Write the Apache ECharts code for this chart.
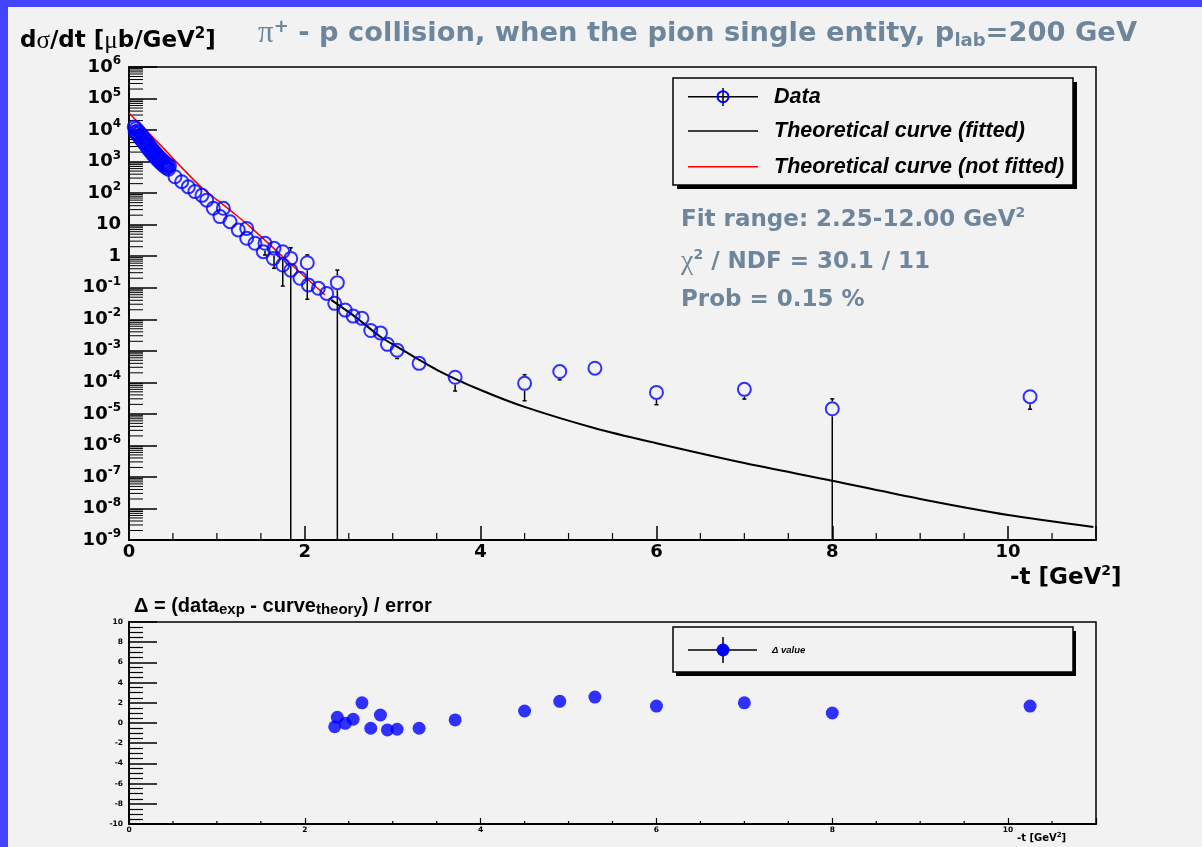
<!DOCTYPE html>
<html>
<head>
<meta charset="utf-8">
<script src="https://cdn.jsdelivr.net/npm/echarts@6/dist/echarts.min.js"></script>
<style>
html,body{margin:0;padding:0;background:#f2f2f2;}
#chart{width:1202px;height:847px;}
</style>
</head>
<body>
<div id="chart"></div>
<script>
// ---------------- data ----------------
// measured d(sigma)/dt points: -t [GeV^2] and value [mub/GeV^2]
const dataT = [0.06,0.08,0.10,0.12,0.14,0.16,0.18,0.20,0.22,0.24,0.26,0.28,0.30,0.32,0.34,0.36,0.38,0.40,0.42,0.44,0.46,
  0.07,0.09,0.11,0.13,0.15,0.17,0.19,0.21,0.23,0.25,0.27,0.29,0.31,0.33,0.35,0.37,0.39,0.41,0.43,0.45,
  0.523,0.60,0.675,0.75,0.83,0.884,0.959,1.035,1.073,1.149,1.243,1.339,1.339,1.433,1.528,1.547,1.642,1.65,1.749,1.749,1.84,1.84,1.945,2.028,2.04,2.154,2.249,
  2.34,2.37,2.46,2.55,2.65,2.75,2.86,2.94,3.05,3.30,3.71,4.5,4.9,5.3,6.0,7.0,8.0,10.25];
const dataV = [12600,11200,9600,8300,7100,6000,5100,4300,3600,3050,2600,2200,1900,1650,1430,1260,1110,990,890,800,730,
  8600,7500,6400,5400,4600,3900,3300,2750,2300,1970,1680,1450,1260,1100,970,860,770,690,630,575,
  331,230,158,112,85,60,33,18,33,12.4,6.8,7.6,3.7,2.57,1.39,2.57,0.85,1.78,1.39,0.525,0.85,0.36,0.2,0.62,0.123,0.096,0.066,
  0.032,0.145,0.0195,0.0126,0.0107,4.4e-3,3.7e-3,1.6e-3,1.05e-3,4.0e-4,1.45e-4,9.3e-5,2.2e-4,2.8e-4,4.8e-5,6.0e-5,1.45e-5,3.5e-5];
// visible error bars (upper / lower bound; 0 = reaches below the axis)
const errT  = [1.547,1.65,1.749,1.84,2.028,2.37,3.05,3.71,4.5,4.9,5.3,6.0,7.0,8.0,10.25];
const errV  = [2.57,1.78,1.39,0.85,0.62,0.145,1.05e-3,1.45e-4,9.3e-5,2.2e-4,2.8e-4,4.8e-5,6.0e-5,1.45e-5,3.5e-5];
const errHi = [3.3,2.88,2.38,1.86,1.1,0.363,1.5e-3,2.15e-4,1.75e-4,3.6e-4,4.5e-4,7.8e-5,9.8e-5,3.0e-5,5.3e-5];
const errLo = [1.09,0.413,0.113,0,0.043,0,5.7e-4,5.3e-5,2.6e-5,1.2e-4,1.7e-4,1.95e-5,2.95e-5,0,1.4e-5];
// theoretical curve (fitted), black
const fitT = [2.30,2.60,2.86,3.08,3.54,4.0,4.5,5.3,6.0,7.0,8.0,9.0,10.0,10.97];
const fitV = [0.041,0.0105,2.8e-3,1.2e-3,2.2e-4,5.7e-5,1.66e-5,3.5e-6,1.17e-6,2.75e-7,7.6e-8,2.0e-8,6.2e-9,2.6e-9];
// theoretical curve (not fitted), red
const nfT = [0,0.33,0.80,1.17,1.38,1.83,2.23];
const nfV = [35000,4000,178,26,8.5,0.6,0.059];
// residuals Delta = (data - theory)/error
const resT = [2.34,2.37,2.46,2.55,2.65,2.75,2.86,2.94,3.05,3.30,3.71,4.5,4.9,5.3,6.0,7.0,8.0,10.25];
const resV = [-0.37,0.56,-0.03,0.37,2.0,-0.52,0.79,-0.69,-0.62,-0.52,0.30,1.19,2.15,2.57,1.68,2.0,0.99,1.68];
// axis ticks
const logDecades = [-9,-8,-7,-6,-5,-4,-3,-2,-1,0,1,2,3,4,5];
const logMinorMult = [2,3,4,5,6,7,8,9];
const xMinorTicks = [0.5,1,1.5,2.5,3,3.5,4.5,5,5.5,6.5,7,7.5,8.5,9,9.5,10.5];

// ---------------- styling ----------------
const YMIN = 1e-9, YMAX = 1e6;
const DJ = 'DejaVu Sans';
const LS = 'Liberation Sans';
const GR = 'Liberation Serif';
const STATC = '#6d869c';
const BLUE = '#0000ff';

const chart = echarts.init(document.getElementById('chart'), null, {renderer: 'canvas', width: 1202, height: 847});

// label of the decade axis (value = exponent of ten)
function decadeLabel(e) {
  e = Math.round(e);
  if (e === 0) return '{b|1}';
  if (e === 1) return '{b|10}';
  return '{b|10}{s|' + e + '}';
}

function renderErr(params, api) {
  const t = api.value(0), v = api.value(1), hi = api.value(2), lo = api.value(3);
  const c = api.coord([t, v]);
  const ph = api.coord([t, hi]);
  const pl = api.coord([t, lo > YMIN ? lo : YMIN]);
  const r = 7.5, cap = 2;
  const st = {stroke: '#000', lineWidth: 1.5};
  const ch = [];
  if (ph[1] < c[1] - r) {
    ch.push({type: 'line', shape: {x1: c[0], y1: ph[1], x2: c[0], y2: c[1] - r}, style: st});
    ch.push({type: 'line', shape: {x1: c[0] - cap, y1: ph[1], x2: c[0] + cap, y2: ph[1]}, style: st});
  }
  if (pl[1] > c[1] + r) {
    ch.push({type: 'line', shape: {x1: c[0], y1: c[1] + r, x2: c[0], y2: pl[1]}, style: st});
    if (lo > YMIN) ch.push({type: 'line', shape: {x1: c[0] - cap, y1: pl[1], x2: c[0] + cap, y2: pl[1]}, style: st});
  }
  return {type: 'group', children: ch};
}

const yMinor = [];
logDecades.forEach(d => logMinorMult.forEach(m => yMinor.push([0, m * Math.pow(10, d)])));

const option = {
  animation: false,
  backgroundColor: '#f2f2f2',
  grid: [
    {left: 129, top: 67, width: 967, height: 473, show: true, borderColor: '#000', borderWidth: 1.5, backgroundColor: 'transparent', containLabel: false, outerBoundsMode: 'none'},
    {left: 129, top: 622, width: 967, height: 202, show: true, borderColor: '#000', borderWidth: 1.5, backgroundColor: 'transparent', containLabel: false, outerBoundsMode: 'none'}
  ],
  xAxis: [
    {gridIndex: 0, type: 'value', min: 0, max: 11, interval: 2,
     axisLine: {show: true, onZero: false, lineStyle: {color: '#000', width: 2}},
     axisTick: {show: true, inside: true, length: 14, lineStyle: {color: '#000', width: 1.5}},
     minorTick: {show: false}, splitLine: {show: false},
     axisLabel: {show: true, margin: 3, color: '#000', fontFamily: DJ, fontWeight: 'bold', fontSize: 18,
                 formatter: v => (v > 10.5 ? '' : String(v))}},
    {gridIndex: 1, type: 'value', min: 0, max: 11, interval: 2,
     axisLine: {show: true, onZero: false, lineStyle: {color: '#000', width: 2}},
     axisTick: {show: true, inside: true, length: 6, lineStyle: {color: '#000', width: 1.2}},
     minorTick: {show: false}, splitLine: {show: false},
     axisLabel: {show: true, margin: 2, color: '#000', fontFamily: DJ, fontWeight: 'bold', fontSize: 7.5,
                 formatter: v => (v > 10.5 ? '' : String(v))}}
  ],
  yAxis: [
    // log axis carrying the data
    {gridIndex: 0, type: 'log', logBase: 10, min: YMIN, max: YMAX,
     axisLine: {show: true, onZero: false, lineStyle: {color: '#000', width: 2}},
     axisTick: {show: false}, minorTick: {show: false}, splitLine: {show: false},
     axisLabel: {show: false}},
    // residual axis
    {gridIndex: 1, type: 'value', min: -10, max: 10, interval: 2,
     axisLine: {show: true, onZero: false, lineStyle: {color: '#000', width: 2}},
     axisTick: {show: true, inside: true, length: 28, lineStyle: {color: '#000', width: 1.5}},
     minorTick: {show: true, splitNumber: 4, length: 14, lineStyle: {color: '#000', width: 1.2}},
     splitLine: {show: false},
     axisLabel: {show: true, margin: 6, color: '#000', fontFamily: DJ, fontWeight: 'bold', fontSize: 7.5}},
    // decade axis (exponent of ten) for major ticks and labels of the log scale
    {gridIndex: 0, type: 'value', min: -9, max: 6, interval: 1, position: 'left',
     axisLine: {show: false},
     axisTick: {show: true, inside: true, length: 28, lineStyle: {color: '#000', width: 1.5}},
     minorTick: {show: false}, splitLine: {show: false},
     axisLabel: {show: true, margin: 8, formatter: decadeLabel,
       rich: {b: {fontSize: 18, fontFamily: DJ, fontWeight: 'bold', color: '#000', lineHeight: 24, verticalAlign: 'middle'},
              s: {fontSize: 12, fontFamily: DJ, fontWeight: 'bold', color: '#000', lineHeight: 12, verticalAlign: 'top'}}}}
  ],
  series: [
    {type: 'custom', name: 'yMinorTicks', xAxisIndex: 0, yAxisIndex: 0, silent: true, z: 3,
     data: yMinor,
     renderItem: (p, api) => { const c = api.coord([api.value(0), api.value(1)]);
       return {type: 'line', shape: {x1: c[0], y1: c[1], x2: c[0] + 14, y2: c[1]}, style: {stroke: '#000', lineWidth: 1}}; }},
    {type: 'custom', name: 'xMinorTicks', xAxisIndex: 0, yAxisIndex: 0, silent: true, z: 3,
     data: xMinorTicks.map(t => [t, YMIN]),
     renderItem: (p, api) => { const c = api.coord([api.value(0), api.value(1)]);
       return {type: 'line', shape: {x1: c[0], y1: c[1], x2: c[0], y2: c[1] - 7}, style: {stroke: '#000', lineWidth: 1.2}}; }},
    {type: 'custom', name: 'xMinorTicksRes', xAxisIndex: 1, yAxisIndex: 1, silent: true, z: 3,
     data: xMinorTicks.map(t => [t, -10]),
     renderItem: (p, api) => { const c = api.coord([api.value(0), api.value(1)]);
       return {type: 'line', shape: {x1: c[0], y1: c[1], x2: c[0], y2: c[1] - 3}, style: {stroke: '#000', lineWidth: 1.2}}; }},
    {type: 'line', name: 'Theoretical curve (fitted)', xAxisIndex: 0, yAxisIndex: 0, silent: true, z: 4,
     data: fitT.map((t, i) => [t, fitV[i]]), smooth: 0.3, showSymbol: false, symbol: 'none',
     lineStyle: {color: '#000', width: 2}},
    {type: 'line', name: 'Theoretical curve (not fitted)', xAxisIndex: 0, yAxisIndex: 0, silent: true, z: 4,
     data: nfT.map((t, i) => [t, nfV[i]]), smooth: 0.3, showSymbol: false, symbol: 'none',
     lineStyle: {color: '#ff0000', width: 1.5}},
    {type: 'custom', name: 'errors', xAxisIndex: 0, yAxisIndex: 0, silent: true, z: 5,
     encode: {x: 0, y: 1},
     data: errT.map((t, i) => [t, errV[i], errHi[i], errLo[i]]),
     renderItem: renderErr},
    {type: 'scatter', name: 'Data', xAxisIndex: 0, yAxisIndex: 0, silent: true, z: 6,
     data: dataT.map((t, i) => [t, dataV[i]]), symbol: 'circle', symbolSize: 13,
     itemStyle: {color: 'rgba(0,0,0,0)', borderColor: BLUE, borderWidth: 2}},
    {type: 'scatter', name: 'Δ value', xAxisIndex: 1, yAxisIndex: 1, silent: true, z: 6,
     data: resT.map((t, i) => [t, resV[i]]), symbol: 'circle', symbolSize: 13,
     itemStyle: {color: BLUE, borderWidth: 0}}
  ],
  graphic: [
    // blue outer frame
    {type: 'rect', shape: {x: 0, y: 0, width: 1202, height: 7}, style: {fill: '#4444ff'}, z: 200},
    {type: 'rect', shape: {x: 0, y: 0, width: 8, height: 847}, style: {fill: '#4444ff'}, z: 200},
    // title
    {type: 'text', x: 258, y: 34, z: 100, style: {
      text: '{g|π}{sp|+}{m| - p collision, when the pion single entity, p}{sb|lab}{m|=200 GeV}',
      fill: STATC, verticalAlign: 'middle', textVerticalAlign: 'middle',
      rich: {g: {fontSize: 31, fontFamily: GR, fill: STATC, lineHeight: 32, verticalAlign: 'middle'},
             sp: {fontSize: 18, fontFamily: DJ, fontWeight: 'bold', fill: STATC, lineHeight: 18, verticalAlign: 'top'},
             m: {fontSize: 27.3, fontFamily: DJ, fontWeight: 'bold', fill: STATC, lineHeight: 32, verticalAlign: 'middle'},
             sb: {fontSize: 18, fontFamily: DJ, fontWeight: 'bold', fill: STATC, lineHeight: 10, verticalAlign: 'bottom'}}}},
    // y axis title
    {type: 'text', x: 20, y: 41, z: 100, style: {
      text: '{m|d}{g|σ}{m|/dt [}{g|μ}{m|b/GeV}{sp|2}{m|]}',
      fill: '#000', verticalAlign: 'middle', textVerticalAlign: 'middle',
      rich: {m: {fontSize: 23, fontFamily: DJ, fontWeight: 'bold', fill: '#000', lineHeight: 28, verticalAlign: 'middle'},
             g: {fontSize: 25, fontFamily: GR, fill: '#000', lineHeight: 28, verticalAlign: 'middle'},
             sp: {fontSize: 15, fontFamily: DJ, fontWeight: 'bold', fill: '#000', lineHeight: 14, verticalAlign: 'top'}}}},
    // x axis title (main)
    {type: 'text', x: 1010, y: 578, z: 100, style: {
      text: '{m|-t [GeV}{sp|2}{m|]}', fill: '#000', verticalAlign: 'middle', textVerticalAlign: 'middle',
      rich: {m: {fontSize: 23, fontFamily: DJ, fontWeight: 'bold', fill: '#000', lineHeight: 28, verticalAlign: 'middle'},
             sp: {fontSize: 14, fontFamily: DJ, fontWeight: 'bold', fill: '#000', lineHeight: 14, verticalAlign: 'top'}}}},
    // legend (main)
    {type: 'rect', shape: {x: 677, y: 82, width: 400, height: 107}, style: {fill: '#000'}, z: 100},
    {type: 'rect', shape: {x: 673, y: 78, width: 400, height: 107}, style: {fill: '#f2f2f2', stroke: '#000', lineWidth: 1.5}, z: 101},
    {type: 'line', shape: {x1: 688, y1: 96.7, x2: 758, y2: 96.7}, style: {stroke: '#000', lineWidth: 1.5}, z: 102},
    {type: 'line', shape: {x1: 723, y1: 88, x2: 723, y2: 106}, style: {stroke: '#000', lineWidth: 1.5}, z: 102},
    {type: 'circle', shape: {cx: 723, cy: 96.7, r: 5.5}, style: {fill: 'none', stroke: BLUE, lineWidth: 2}, z: 103},
    {type: 'line', shape: {x1: 688, y1: 131, x2: 758, y2: 131}, style: {stroke: '#000', lineWidth: 1.5}, z: 102},
    {type: 'line', shape: {x1: 688, y1: 166.7, x2: 758, y2: 166.7}, style: {stroke: '#ff0000', lineWidth: 1.5}, z: 102},
    {type: 'text', x: 774, y: 97, z: 103, style: {text: 'Data', fill: '#000', font: 'italic bold 21.5px "Liberation Sans"', verticalAlign: 'middle', textVerticalAlign: 'middle'}},
    {type: 'text', x: 774, y: 131, z: 103, style: {text: 'Theoretical curve (fitted)', fill: '#000', font: 'italic bold 21.5px "Liberation Sans"', verticalAlign: 'middle', textVerticalAlign: 'middle'}},
    {type: 'text', x: 774, y: 167, z: 103, style: {text: 'Theoretical curve (not fitted)', fill: '#000', font: 'italic bold 21.5px "Liberation Sans"', verticalAlign: 'middle', textVerticalAlign: 'middle'}},
    // fit statistics
    {type: 'text', x: 681, y: 220, z: 100, style: {
      text: '{m|Fit range: 2.25-12.00 GeV}{sp|2}', verticalAlign: 'middle', textVerticalAlign: 'middle', fill: STATC,
      rich: {m: {fontSize: 23, fontFamily: DJ, fontWeight: 'bold', fill: STATC, lineHeight: 28, verticalAlign: 'middle'},
             sp: {fontSize: 14, fontFamily: DJ, fontWeight: 'bold', fill: STATC, lineHeight: 14, verticalAlign: 'top'}}}},
    {type: 'text', x: 681, y: 262, z: 100, style: {
      text: '{g|χ}{sp|2}{m| / NDF = 30.1 / 11}', verticalAlign: 'middle', textVerticalAlign: 'middle', fill: STATC,
      rich: {m: {fontSize: 23, fontFamily: DJ, fontWeight: 'bold', fill: STATC, lineHeight: 28, verticalAlign: 'middle'},
             g: {fontSize: 28, fontFamily: GR, fill: STATC, lineHeight: 28, verticalAlign: 'middle'},
             sp: {fontSize: 14, fontFamily: DJ, fontWeight: 'bold', fill: STATC, lineHeight: 14, verticalAlign: 'top'}}}},
    {type: 'text', x: 681, y: 300, z: 100, style: {
      text: 'Prob = 0.15 %', verticalAlign: 'middle', textVerticalAlign: 'middle', fill: STATC,
      font: 'bold 23px "DejaVu Sans"'}},
    // residual title
    {type: 'text', x: 134, y: 606, z: 100, style: {
      text: '{m|Δ = (data}{sb|exp}{m| - curve}{sb|theory}{m|) / error}', fill: '#000', verticalAlign: 'middle', textVerticalAlign: 'middle',
      rich: {m: {fontSize: 20, fontFamily: LS, fontWeight: 'bold', fill: '#000', lineHeight: 22, verticalAlign: 'middle'},
             sb: {fontSize: 15, fontFamily: LS, fontWeight: 'bold', fill: '#000', lineHeight: 0, verticalAlign: 'bottom'}}}},
    // residual x axis title
    {type: 'text', x: 1017, y: 838, z: 100, style: {
      text: '{m|-t [GeV}{sp|2}{m|]}', fill: '#000', verticalAlign: 'middle', textVerticalAlign: 'middle',
      rich: {m: {fontSize: 10, fontFamily: DJ, fontWeight: 'bold', fill: '#000', lineHeight: 12, verticalAlign: 'middle'},
             sp: {fontSize: 7, fontFamily: DJ, fontWeight: 'bold', fill: '#000', lineHeight: 7, verticalAlign: 'top'}}}},
    // residual legend
    {type: 'rect', shape: {x: 676, y: 631, width: 400, height: 45}, style: {fill: '#000'}, z: 100},
    {type: 'rect', shape: {x: 673, y: 627, width: 400, height: 45}, style: {fill: '#f2f2f2', stroke: '#000', lineWidth: 1.5}, z: 101},
    {type: 'line', shape: {x1: 688, y1: 650, x2: 757, y2: 650}, style: {stroke: '#000', lineWidth: 1.5}, z: 102},
    {type: 'line', shape: {x1: 723, y1: 637, x2: 723, y2: 663}, style: {stroke: '#000', lineWidth: 1.5}, z: 102},
    {type: 'circle', shape: {cx: 723, cy: 650, r: 6.5}, style: {fill: BLUE}, z: 103},
    {type: 'text', x: 772, y: 650, z: 103, style: {text: 'Δ value', fill: '#000', font: 'italic bold 9.5px "Liberation Sans"', verticalAlign: 'middle', textVerticalAlign: 'middle'}}
  ]
};
chart.setOption(option);
</script>
</body>
</html>
